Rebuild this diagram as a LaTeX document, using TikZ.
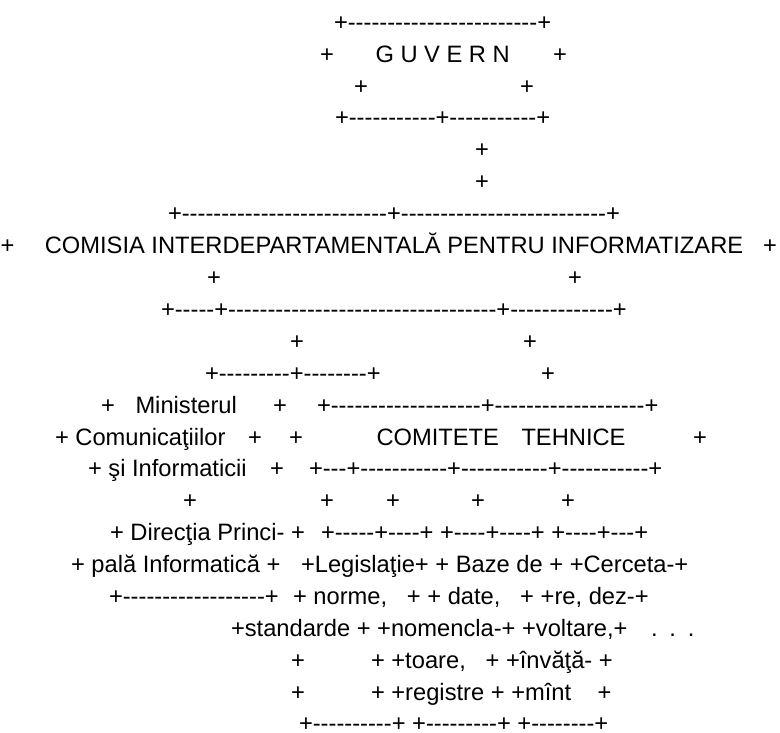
\documentclass[tikz,border=0pt]{standalone}
\usepackage{fontspec}
\setmainfont{Liberation Sans}
\newcommand\dashes[1]{\ifnum#1>0 -\kern0pt\expandafter\dashes\expandafter{\the\numexpr#1-1\relax}\fi}
\tikzset{tok/.style={anchor=base west, inner sep=0pt, outer sep=0pt, font=\fontsize{23.7}{28}\selectfont\frenchspacing},
ctok/.style={tok, anchor=base}}
\begin{document}
\begin{tikzpicture}[x=1pt,y=-1pt]
\fill[white] (0,0) rectangle (780,733);
\useasboundingbox (0,0) rectangle (780,733);
% lines 1-12
\node (l1) [tok] at (334,30.3) {+\dashes{24}+};
\node (l2a) [tok] at (320,62.2) {+};
\node (l2b) [tok] at (375.5,62.2) {G U V E R N};
\node (l2c) [tok] at (553,62.2) {+};
\node (l3a) [tok] at (354,94.1) {+};
\node (l3b) [tok] at (520,94.1) {+};
\node (l4) [tok] at (335,126.0) {+\dashes{11}+\dashes{11}+};
\node (l5) [tok] at (475,157.9) {+};
\node (l6) [tok] at (475,189.8) {+};
\node (l7) [tok] at (168,221.7) {+\dashes{26}+\dashes{26}+};
\node (l8a) [tok] at (0.6,253.6) {+};
\node (l8b) [ctok] at (394,253.6) {COMISIA INTERDEPARTAMENTALĂ PENTRU INFORMATIZARE};
\node (l8c) [tok] at (763,253.6) {+};
\node (l9a) [tok] at (207,285.5) {+};
\node (l9b) [tok] at (568,285.5) {+};
\node (l10) [tok] at (161,317.4) {+\dashes{5}+\dashes{34}+\dashes{13}+};
\node (l11a) [tok] at (290,349.3) {+};
\node (l11b) [tok] at (523,349.3) {+};
\node (l12a) [tok] at (205,381.2) {+\dashes{9}+\dashes{8}+};
\node (l12b) [tok] at (541,381.2) {+};
% line 13
\node (l13a) [tok] at (101,413.1) {+};
\node (l13b) [tok] at (135.5,413.1) {Ministerul};
\node (l13c) [tok] at (273,413.1) {+};
\node (l13d) [tok] at (317,413.1) {+\dashes{19}+\dashes{19}+};
% line 14
\node (l14a) [tok] at (55,445.0) {+ Comunicaţiilor};
\node (l14b) [tok] at (248,445.0) {+};
\node (l14c) [tok] at (289,445.0) {+};
\node (l14d) [tok] at (376.5,445.0) {COMITETE};
\node (l14e) [tok] at (521.5,445.0) {TEHNICE};
\node (l14f) [tok] at (693,445.0) {+};
% line 15
\node (l15a) [tok] at (88,476.9) {+ şi Informaticii};
\node (l15b) [tok] at (270,476.9) {+};
\node (l15c) [tok] at (309,476.9) {+\dashes{3}+\dashes{11}+\dashes{11}+\dashes{11}+};
% line 16
\node (l16a) [tok] at (183,508.8) {+};
\node (l16b) [tok] at (320,508.8) {+};
\node (l16c) [tok] at (386,508.8) {+};
\node (l16d) [tok] at (471,508.8) {+};
\node (l16e) [tok] at (561,508.8) {+};
% line 17
\node (l17a) [tok] at (110,540.7) {+ Direcţia Princi- +};
\node (l17b) [tok] at (321,540.7) {+\dashes{5}+\dashes{4}+ +\dashes{4}+\dashes{4}+ +\dashes{4}+\dashes{3}+};
% line 18
\node (l18a) [tok] at (71,572.6) {+ pală Informatică +};
\node (l18b) [tok] at (301,572.6) {+Legislaţie+ + Baze de + +Cerceta-+};
% line 19
\node (l19a) [tok] at (109,604.5) {+\dashes{18}+};
\node (l19b) [tok] at (293,604.5) {+ norme,\ \ \ + + date,\ \ \ + +re, dez-+};
% line 20
\node (l20a) [tok] at (231,636.4) {+standarde + +nomencla-+ +voltare,+};
\node (l20b) [tok] at (651,636.4) {\spaceskip=11.9pt . . .};
% line 21
\node (l21a) [tok] at (291,668.3) {+};
\node (l21b) [tok] at (371,668.3) {+ +toare,\ \ \ + +învăţă- +};
% line 22
\node (l22a) [tok] at (291,700.2) {+};
\node (l22b) [tok] at (371,700.2) {+ +registre + +mînt\ \ \ \ +};
% line 23
\node (l23) [tok] at (299,731.5) {+\dashes{10}+ +\dashes{9}+ +\dashes{8}+};
\end{tikzpicture}
\end{document}
